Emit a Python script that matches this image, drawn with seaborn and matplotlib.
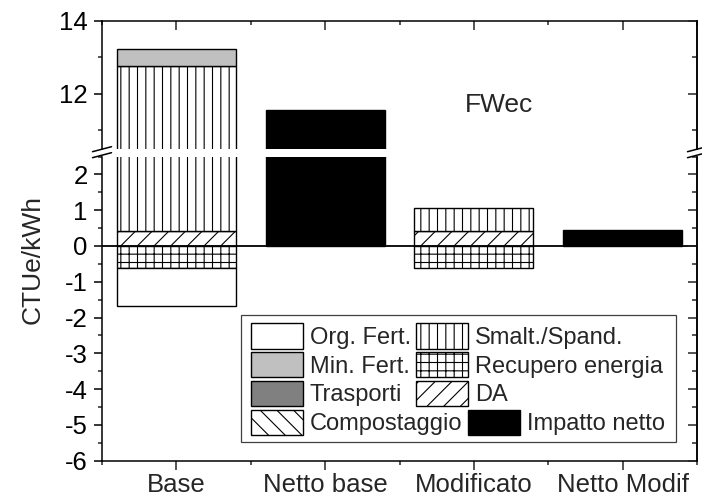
import numpy as np
import pandas as pd
import matplotlib
matplotlib.use("Agg")
import matplotlib.pyplot as plt
import seaborn as sns
from matplotlib.patches import Patch, Rectangle
from matplotlib.lines import Line2D
from matplotlib.ticker import MultipleLocator

sns.set_style("ticks")
plt.rcParams["font.family"] = ["Liberation Sans", "DejaVu Sans"]
plt.rcParams["hatch.linewidth"] = 0.8
plt.rcParams["hatch.color"] = "black"
plt.rcParams["axes.unicode_minus"] = False

# ---- data ----
scenarios = ["Base", "Netto base", "Modificato", "Netto Modif"]
da = [0.42, 0.0, 0.42, 0.0]
smalt = [12.33, 0.0, 0.64, 0.0]
min_fert = [0.48, 0.0, 0.0, 0.0]
recupero = [-0.62, 0.0, -0.62, 0.0]
org_fert = [-1.06, 0.0, 0.0, 0.0]
impatto = [0.0, 11.56, 0.0, 0.45]
y_label = "CTUe/kWh"
annotation = "FWec"

W, H = 702, 501
fig = plt.figure(figsize=(W / 100, H / 100), dpi=100)


def fx(px):
    return px / W


def fy(py):
    return 1 - py / H


L, R = 102, 697
ax_up = fig.add_axes([fx(L), fy(148.7), (R - L) / W, (148.7 - 20.7) / H])
ax_lo = fig.add_axes([fx(L), fy(460.7), (R - L) / W, (460.7 - 156.5) / H])

zeros = np.zeros(4)
comps = [
    (da, zeros, "white", "//"),
    (smalt, np.array(da), "white", "||"),
    (min_fert, np.array(da) + np.array(smalt), "#c0c0c0", None),
    (recupero, zeros, "white", "++"),
    (org_fert, np.array(recupero), "white", None),
    (impatto, zeros, "black", None),
]


def draw(ax):
    for vals, bots, col, hatch in comps:
        mask = [v != 0 for v in vals]
        df = pd.DataFrame({
            "scenario": [s for s, m in zip(scenarios, mask) if m],
            "value": [v for v, m in zip(vals, mask) if m],
        })
        b = [float(bb) for bb, m in zip(bots, mask) if m]
        sns.barplot(data=df, x="scenario", y="value", order=scenarios,
                    bottom=b, color=col, saturation=1, edgecolor="black",
                    linewidth=1.0, hatch=hatch, errorbar=None, width=0.8, ax=ax)
    ax.set_xlabel("")
    ax.set_ylabel("")
    ax.set_xlim(-0.5, 3.5)


draw(ax_up)
draw(ax_lo)

ax_up.set_ylim(10.5, 14)
ax_lo.set_ylim(-6, 2.5)
ax_lo.axhline(0, color="black", lw=1.3, zorder=5)

tick_fs = 18.5
for ax in (ax_up, ax_lo):
    for s in ax.spines.values():
        s.set_linewidth(1.1)
        s.set_color("black")
    ax.set_xticks(range(4))
    ax.set_xticks([-0.5, 0.5, 1.5, 2.5, 3.5], minor=True)
    ax.tick_params(axis="y", which="major", direction="out", length=5.8,
                   width=1.1, labelsize=tick_fs, pad=4.5, colors="black")
    ax.tick_params(axis="y", which="minor", direction="out", length=2.9,
                   width=1.1)

ax_up.spines["bottom"].set_visible(False)
ax_lo.spines["top"].set_visible(False)

ax_up.yaxis.set_major_locator(MultipleLocator(2))
ax_up.yaxis.set_minor_locator(MultipleLocator(1))
ax_lo.yaxis.set_major_locator(MultipleLocator(1))
ax_lo.yaxis.set_minor_locator(MultipleLocator(0.5))

ax_up.tick_params(axis="x", which="both", top=True, bottom=False,
                  labeltop=False, labelbottom=False, direction="in", width=1.1)
ax_up.tick_params(axis="x", which="major", length=6.5)
ax_up.tick_params(axis="x", which="minor", length=2.9)

ax_lo.set_xticklabels(scenarios)
ax_lo.tick_params(axis="x", which="both", top=False, bottom=True,
                  direction="out", width=1.1, labelsize=tick_fs, pad=2.5)
ax_lo.tick_params(axis="x", which="major", length=6.5)
ax_lo.tick_params(axis="x", which="minor", length=2.9)

# right-side inward ticks
for ax, maj, mnr in ((ax_up, 2, 1), (ax_lo, 1, 0.5)):
    tw = ax.twinx()
    tw.set_ylim(ax.get_ylim())
    tw.yaxis.set_major_locator(MultipleLocator(maj))
    tw.yaxis.set_minor_locator(MultipleLocator(mnr))
    tw.tick_params(axis="y", which="major", direction="in", length=6.5,
                   width=1.1, labelright=False)
    tw.tick_params(axis="y", which="minor", direction="in", length=3.6,
                   width=1.1)
    for k in ("top", "bottom", "left"):
        tw.spines[k].set_visible(False)
    tw.spines["right"].set_linewidth(1.1)
    tw.spines["right"].set_color("black")

# annotation
ax_up.text(1.94, 11.49, annotation, fontsize=19, ha="left", va="baseline")

# y label
fig.text(fx(33), fy(260), y_label, rotation=90, ha="center", va="center",
         fontsize=19)

# break marks
for cx in (L, R):
    for yc in (149.2, 155.2):
        fig.add_artist(Line2D([fx(cx - 9.5), fx(cx + 9.5)],
                              [fy(yc + 2.5), fy(yc - 2.5)],
                              color="black", lw=1.1))

# legend
fig.add_artist(Rectangle((fx(240.7), fy(442)), (675.7 - 240.7) / W,
                         (442 - 315) / H, transform=fig.transFigure,
                         facecolor="white", edgecolor="#404040", lw=0.9,
                         zorder=3))

leg_fs = 17
fpx = leg_fs * 100 / 72
rect_h = 25.5
hh = (rect_h / fpx - 0.245) / 0.65
descent = 0.35 * fpx * (hh - 0.7)
row_h = rect_h + max(0.0, 0.21 * fpx - descent)
ls = (28.8 - row_h) / fpx


def patch(fc, hatch=None):
    return Patch(facecolor=fc, edgecolor="black", hatch=hatch, linewidth=1.0)


h_a = [patch("white"), patch("#c0c0c0"), patch("#808080"), patch("white", "\\\\")]
l_a = ["Org. Fert.", "Min. Fert.", "Trasporti", "Compostaggio"]
h_b = [patch("white", "||"), patch("white", "++"), patch("white", "//")]
l_b = ["Smalt./Spand.", "Recupero energia", "DA"]
h_c = [patch("black")]
l_c = ["Impatto netto"]

common = dict(loc="upper left", frameon=False, fontsize=leg_fs,
              handlelength=52 / fpx, handleheight=hh,
              handletextpad=7 / fpx, labelspacing=ls, borderpad=0,
              borderaxespad=0, bbox_transform=fig.transFigure)
for hs, lb, (x0, y0) in ((h_a, l_a, (250.7, 323)), (h_b, l_b, (416, 323)),
                         (h_c, l_c, (467.7, 409.7))):
    lg = fig.legend(hs, lb, bbox_to_anchor=(fx(x0), fy(y0)), **common)
    lg.set_zorder(6)

fig.savefig("out.png", dpi=100)
